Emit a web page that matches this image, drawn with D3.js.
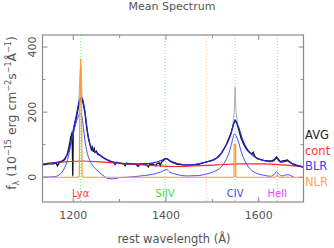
<!DOCTYPE html>
<html>
<head>
<meta charset="utf-8">
<script src="https://cdn.jsdelivr.net/npm/d3@7"></script>
<style>
body { margin: 0; background: #fff; }
svg { font-family: "DejaVu Sans", sans-serif; }
</style>
</head>
<body>
<div id="spec_plot"></div>
<script>
// mean spectrum, values (flux in 1e-15 erg/cm2/s/A)
var avgWave = [1135,1142,1150,1158,1163,1166,1170,1176,1182,1187,1191,1195,1197,1198,1199,1200,1203,1207,1211,1215,1218,1221,1225,1229,1233,1236,1239,1241,1243,1245,1247,1250,1253,1257,1262,1267,1272,1277,1282,1287,1290,1293,1300,1308,1312,1315,1325,1335,1340,1343,1352,1358,1362,1365,1372,1378,1380,1385,1388,1390,1395,1398,1401,1404,1408,1415,1425,1440,1455,1470,1480,1490,1500,1510,1520,1530,1540,1546,1549,1552,1556,1562,1568,1574,1580,1585,1588,1592,1596,1600,1610,1620,1628,1634,1638,1642,1646,1652,1658,1662,1666,1672,1680,1690,1696];
var avgFlux = [38,40,42,41,44,35,45,48,55,70,95,125,135,130,5,140,160,185,215,240,245,230,200,150,118,100,85,92,78,88,76,80,70,68,62,58,54,50,47,45,39,46,43,42,35,43,41,40,33,40,40,38,32,39,40,35,41,44,36,46,52,56,58,55,50,45,40,38,37,40,44,48,52,60,75,100,135,165,175,170,150,120,100,85,76,72,77,63,58,56,52,50,50,55,62,56,48,50,52,53,48,42,38,34,32];

var contWave = [1134,1180,1219,1260,1308,1360,1410,1460,1510,1560,1610,1650,1697];
var contFlux = [41,47,50,47,42,37,33,35,38,41,41,38,32];

var modelWave = [1134,1150,1165,1175,1183,1190,1196,1202,1208,1213,1217,1221,1225,1229,1233,1238,1244,1250,1258,1266,1275,1290,1308,1330,1360,1380,1392,1398,1403,1410,1425,1445,1465,1481,1495,1505,1515,1524,1532,1539,1545,1549,1553,1558,1564,1570,1576,1585,1596,1610,1625,1633,1638,1642,1648,1655,1662,1668,1676,1686,1697];
var modelFlux = [40,43,46,50,60,80,115,160,200,235,245,235,205,160,120,95,84,76,68,60,53,46,42,41,42,47,53,57,56,50,42,38,40,45,50,55,65,85,105,128,160,173,165,148,120,100,85,70,59,52,48,51,59,53,46,48,50,45,38,34,31];

var blrWave = [1134,1160,1172,1180,1188,1195,1202,1209,1214,1218,1222,1226,1231,1237,1244,1251,1260,1268,1275,1285,1300,1316,1345,1380,1395,1401,1408,1420,1445,1470,1481,1495,1510,1520,1530,1538,1543,1547,1551,1557,1563,1571,1580,1590,1600,1615,1625,1633,1638,1643,1650,1657,1663,1670,1676];
var blrFlux = [0,2,10,25,55,100,145,180,195,190,150,105,70,48,32,22,10,2,-4,-5,-1,0,4,12,20,24,16,10,4,5,8,13,22,33,55,85,112,133,128,105,75,48,28,16,10,5,3,8,17,10,4,7,8,4,0];

var nlrWave = [1134,1211,1213,1214,1216,1218,1219,1221,1545,1546.5,1547,1550,1550.5,1552,1636,1640,1644,1697];
var nlrFlux = [0,0,4,200,365,200,4,0,0,2,100,100,2,0,0,7,0,0];

// narrow residual spikes (grey)
var greyWave = [1194,1197,1198.5,1200,1205,1212,1215,1217,1219,1224,null,1544,1547,1549,1551,1554];
var greyFlux = [120,132,0,138,170,230,330,340,250,205,null,160,200,276,200,165];

var lineNames = ["Lyα","SiIV","CIV","HeII"];
var lineWave = [1216,1398,1549,1640];
var lineColors = ["#ff4040","#44dd44","#4848ff","#ff40ff"];
var extraLine = 1487;

var legendNames = ["AVG","cont","BLR","NLR"];
var legendColors = ["#222222","#ff3030","#3c3cff","#ffa450"];

var xTicks = [1200,1400,1600];
var xMinor = [1300,1500];
var yTicks = [0,200,400];
var yMinor = [100,300];

function zip(w, f) {
    return w.map(function(d, i) { return {x: d, y: f[i]}; });
}

function make_spec_plot() {
    var W = 334, H = 248;
    var svg = d3.select("#spec_plot").append("svg")
        .attr("width", W)
        .attr("height", H);

    var left = 42.5, right = 303.5, top = 35, bottom = 202;

    var x = d3.scaleLinear([1133.7, 1696.5], [left, right]);
    var y = d3.scaleLinear([-76, 437], [bottom, top]);

    var plot = svg.append("g");
    svg.append("clipPath").attr("id", "clipbox")
        .append("rect")
        .attr("x", left).attr("y", top)
        .attr("width", right-left).attr("height", bottom-top);
    plot.attr("clip-path", "url(#clipbox)");

    // vertical marker lines
    lineWave.forEach(function(w) {
        plot.append("line")
            .attr("x1", x(w)).attr("x2", x(w))
            .attr("y1", top).attr("y2", bottom)
            .attr("stroke", "#77ee77")
            .attr("stroke-width", 1)
            .attr("stroke-dasharray", "1,2");
    });
    plot.append("line")
        .attr("x1", x(extraLine)).attr("x2", x(extraLine))
        .attr("y1", top).attr("y2", bottom)
        .attr("stroke", "#ffc090")
        .attr("stroke-width", 1)
        .attr("stroke-dasharray", "1,2");

    var line = d3.line()
        .defined(function(d) { return d.x != null; })
        .x(function(d) { return x(d.x); })
        .y(function(d) { return y(d.y); });
    var smooth = d3.line()
        .x(function(d) { return x(d.x); })
        .y(function(d) { return y(d.y); })
        .curve(d3.curveMonotoneX);

    plot.append("path")
        .attr("d", line(zip(greyWave, greyFlux)))
        .attr("fill", "none")
        .attr("stroke", "#b0b0b0")
        .attr("stroke-width", 1);

    plot.append("path")
        .attr("d", line(zip(avgWave, avgFlux)))
        .attr("fill", "none")
        .attr("stroke", "#111")
        .attr("stroke-width", 1.3);

    plot.append("path")
        .attr("d", smooth(zip(contWave, contFlux)))
        .attr("fill", "none")
        .attr("stroke", "#ff2a2a")
        .attr("stroke-width", 1.2);

    plot.append("path")
        .attr("d", smooth(zip(blrWave, blrFlux)))
        .attr("fill", "none")
        .attr("stroke", "#4a4aff")
        .attr("stroke-width", 1);

    plot.append("path")
        .attr("d", smooth(zip(modelWave, modelFlux)))
        .attr("fill", "none")
        .attr("stroke", "#2828dd")
        .attr("stroke-width", 1.2);

    plot.append("path")
        .attr("d", line(zip(nlrWave, nlrFlux)))
        .attr("fill", "none")
        .attr("stroke", "#ff9a30")
        .attr("stroke-width", 1.2);

    // frame and ticks
    var axcol = "#8a8a8a";
    svg.append("rect")
        .attr("x", left).attr("y", top)
        .attr("width", right-left).attr("height", bottom-top)
        .attr("fill", "none")
        .attr("stroke", axcol)
        .attr("stroke-width", 1.2);

    function xtick(v, len) {
        svg.append("line").attr("x1", x(v)).attr("x2", x(v))
            .attr("y1", bottom).attr("y2", bottom-len)
            .attr("stroke", axcol);
        svg.append("line").attr("x1", x(v)).attr("x2", x(v))
            .attr("y1", top).attr("y2", top+len)
            .attr("stroke", axcol);
    }
    function ytick(v, len) {
        svg.append("line").attr("x1", left).attr("x2", left+len)
            .attr("y1", y(v)).attr("y2", y(v))
            .attr("stroke", axcol);
        svg.append("line").attr("x1", right).attr("x2", right-len)
            .attr("y1", y(v)).attr("y2", y(v))
            .attr("stroke", axcol);
    }
    xTicks.forEach(function(v) { xtick(v, 5); });
    xMinor.forEach(function(v) { xtick(v, 3); });
    yTicks.forEach(function(v) { ytick(v, 5); });
    yMinor.forEach(function(v) { ytick(v, 3); });

    var txtcol = "#555";
    svg.selectAll(".xlab").data(xTicks).enter().append("text")
        .attr("x", function(d) { return x(d); })
        .attr("y", 219)
        .attr("text-anchor", "middle")
        .attr("font-size", 11)
        .attr("fill", txtcol)
        .text(function(d) { return d; });

    svg.selectAll(".ylab").data(yTicks).enter().append("text")
        .attr("transform", function(d) { return "translate(36," + y(d) + ") rotate(-90)"; })
        .attr("text-anchor", "middle")
        .attr("font-size", 11)
        .attr("fill", txtcol)
        .text(function(d) { return d; });

    svg.append("text")
        .attr("x", 172).attr("y", 10)
        .attr("text-anchor", "middle")
        .attr("font-size", 11)
        .attr("fill", txtcol)
        .text("Mean Spectrum");

    svg.append("text")
        .attr("x", 174).attr("y", 243)
        .attr("text-anchor", "middle")
        .attr("font-size", 11.5)
        .attr("fill", txtcol)
        .text("rest wavelength (Å)");

    var ylab = svg.append("text")
        .attr("transform", "translate(16,113) rotate(-90)")
        .attr("text-anchor", "middle")
        .attr("font-size", 12.5)
        .attr("fill", txtcol);
    ylab.append("tspan").text("f");
    ylab.append("tspan").attr("font-size", 8).attr("dy", 3).text("λ");
    ylab.append("tspan").attr("dy", -3).text(" (10");
    ylab.append("tspan").attr("font-size", 8).attr("dy", -5).text("−15");
    ylab.append("tspan").attr("dy", 5).text(" erg cm");
    ylab.append("tspan").attr("font-size", 8).attr("dy", -5).text("−2");
    ylab.append("tspan").attr("dy", 5).text("s");
    ylab.append("tspan").attr("font-size", 8).attr("dy", -5).text("−1");
    ylab.append("tspan").attr("dy", 5).text("Å");
    ylab.append("tspan").attr("font-size", 8).attr("dy", -5).text("−1");
    ylab.append("tspan").attr("dy", 5).text(")");

    // emission line labels
    svg.selectAll(".lname").data(lineNames).enter().append("text")
        .attr("x", function(d, i) { return x(lineWave[i]); })
        .attr("y", 197)
        .attr("text-anchor", "middle")
        .attr("font-size", 10)
        .attr("fill", function(d, i) { return lineColors[i]; })
        .text(function(d) { return d; });

    // legend
    svg.selectAll(".leg").data(legendNames).enter().append("text")
        .attr("x", 305)
        .attr("y", function(d, i) { return 139 + i*15.5; })
        .attr("font-size", 11.5)
        .attr("fill", function(d, i) { return legendColors[i]; })
        .text(function(d) { return d; });
}

make_spec_plot();
</script>
</body>
</html>
